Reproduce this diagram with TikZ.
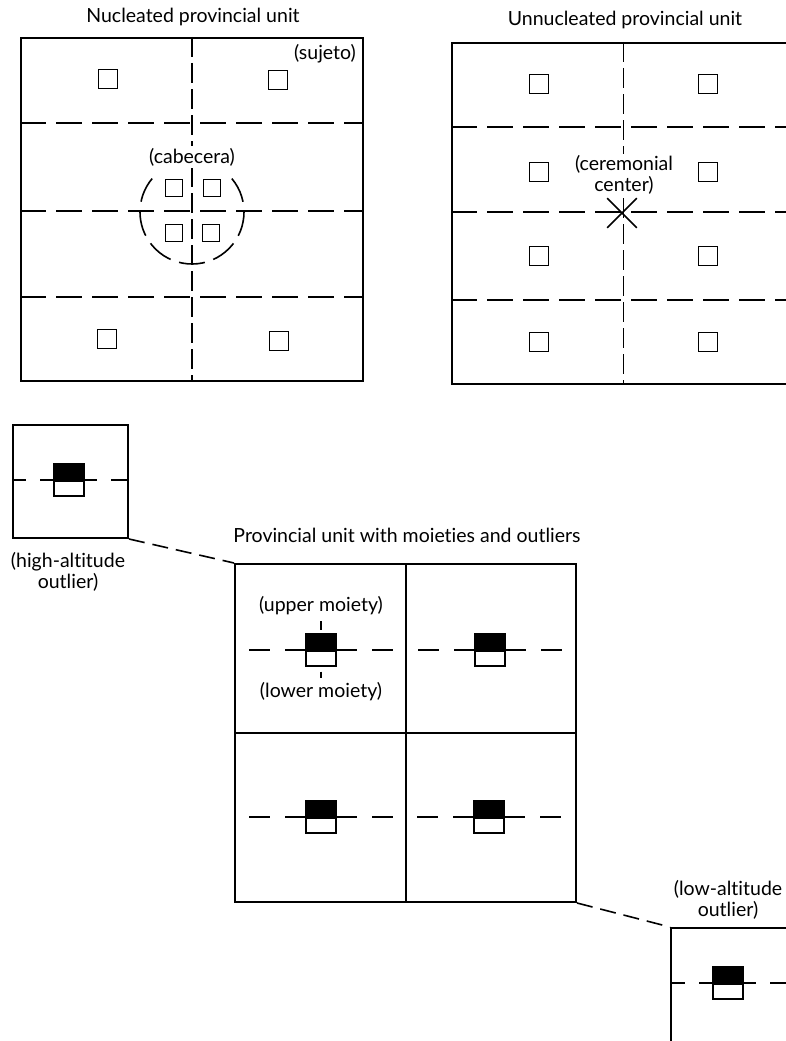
\documentclass[tikz,border=0pt]{standalone}
\usepackage{fontspec}
\setmainfont{Lato}[Ligatures=NoCommon]
\usetikzlibrary{shapes.misc}

\tikzset{
	unitbox/.style={draw, line width=2pt, anchor=north west, inner sep=0pt},
	hut/.style={draw, line width=1.8pt, minimum size=19pt, inner sep=0pt},
	smallhut/.style={hut, minimum size=17pt},
	divide/.style={line width=1.6pt, dash pattern=on 26pt off 10pt},
	splitline/.style={line width=1.6pt, dash pattern=on 20pt off 6pt},
	link/.style={line width=1.6pt, dash pattern=on 16pt off 8pt},
	upperhalf/.style={draw, fill=black, line width=1.7pt, minimum width=30pt, minimum height=15pt, inner sep=0pt, anchor=south},
	lowerhalf/.style={draw, fill=white, line width=1.7pt, minimum width=30pt, minimum height=15pt, inner sep=0pt, anchor=north},
	lbl/.style={font=\fontsize{19.5}{20.5}\selectfont, align=center, inner sep=2pt},
}

\begin{document}
\begin{tikzpicture}[x=1pt, y=-1pt]
	\useasboundingbox (0,0) rectangle (786,1041);
	\clip (0,0) rectangle (786,1041);

	% nucleated unit
	\node[lbl] (nuctitle) at (193,17) {Nucleated provincial unit};
	\node[unitbox, minimum width=342pt, minimum height=343pt] (nuc) at (20,37) {};
	\foreach \y in {123,211,297}
	{
		\draw [divide] (20,\y) -- (362,\y);
	}
	\draw [splitline] (nuc.north) -- (nuc.south);
	\draw [line width=1.6pt, dash pattern=on 26pt off 9pt] (192,212) ++(-40:52) arc (-40:220:52);
	\foreach \x/\y/\n in {108/79/a, 278/80/b, 107/339/c, 279/341/d}
	{
		\node[hut] (nuc\n) at (\x,\y) {};
	}
	\foreach \x/\y/\n in {174/188/a, 212/188/b, 174/233/c, 211/233/d}
	{
		\node[smallhut] (cab\n) at (\x,\y) {};
	}
	\node[lbl, fill=white] (cabecera) at (192,157) {(cabecera)};
	\node[lbl, anchor=east] (sujeto) at (358,54) {(sujeto)};

	% unnucleated unit
	\node[lbl] (unntitle) at (625,20) {Unnucleated provincial unit};
	\node[unitbox, minimum width=343pt, minimum height=341pt] (unn) at (451,42) {};
	\foreach \y in {127,212,300}
	{
		\draw [divide] (451,\y) -- (794,\y);
	}
	\draw [splitline] (unn.north) -- (unn.south);
	\foreach \x in {539,708}
	{
		\foreach \y in {84,172,256,342}
		{
			\node[hut] (unn-\x-\y) at (\x,\y) {};
		}
	}
	\node[draw, cross out, line width=1.7pt, minimum size=28pt, fill=white] (ceremonial) at (622,213) {};
	\node[lbl, fill=white] (centerlabel) at (624,175) {(ceremonial\\center)};

	% unit with moieties and outliers
	\node[lbl] (provtitle) at (407,535) {Provincial unit with moieties and outliers};
	\node[unitbox, minimum width=341pt, minimum height=338pt] (prov) at (234,563) {};
	\draw [line width=2pt] (prov.north) -- (prov.south);
	\draw [line width=2pt] (prov.west) -- (prov.east);

	\node[unitbox, minimum width=115pt, minimum height=113pt] (high) at (12,424) {};
	\node[lbl] (highlabel) at (68,572) {(high-altitude\\outlier)};
	\node[unitbox, minimum width=118pt, minimum height=118pt] (low) at (670,927) {};
	\node[lbl] (lowlabel) at (728,900) {(low-altitude\\outlier)};

	\draw [link] (high.south east) -- (prov.north west);
	\draw [link] (prov.south east) -- (low.north west);

	\foreach \x/\y/\n in {321/650/tl, 490/650/tr, 321/817/bl, 489/817/br}
	{
		\draw [line width=1.6pt] (\x-72,\y) -- (\x-51,\y);
		\draw [line width=1.6pt] (\x-36,\y) -- (\x+36,\y);
		\draw [line width=1.6pt] (\x+51,\y) -- (\x+72,\y);
		\node[upperhalf] (\n-up) at (\x,\y) {};
		\node[lowerhalf] (\n-down) at (\x,\y) {};
	}
	\foreach \x/\y/\n in {69/480/hi, 728/983/lo}
	{
		\draw [line width=1.6pt] (\x-57,\y) -- (\x-43,\y);
		\draw [line width=1.6pt] (\x-29,\y) -- (\x+28,\y);
		\draw [line width=1.6pt] (\x+42,\y) -- (\x+58,\y);
		\node[upperhalf] (\n-up) at (\x,\y) {};
		\node[lowerhalf] (\n-down) at (\x,\y) {};
	}

	\node[lbl] (upper) at (321,606) {(upper moiety)};
	\node[lbl] (lower) at (321,692) {(lower moiety)};
	\draw [line width=1.6pt, shorten <=4pt, shorten >=3pt] (upper) -- (tl-up);
	\draw [line width=1.6pt, shorten <=5pt, shorten >=3pt] (tl-down) -- (lower);

\end{tikzpicture}
\end{document}
